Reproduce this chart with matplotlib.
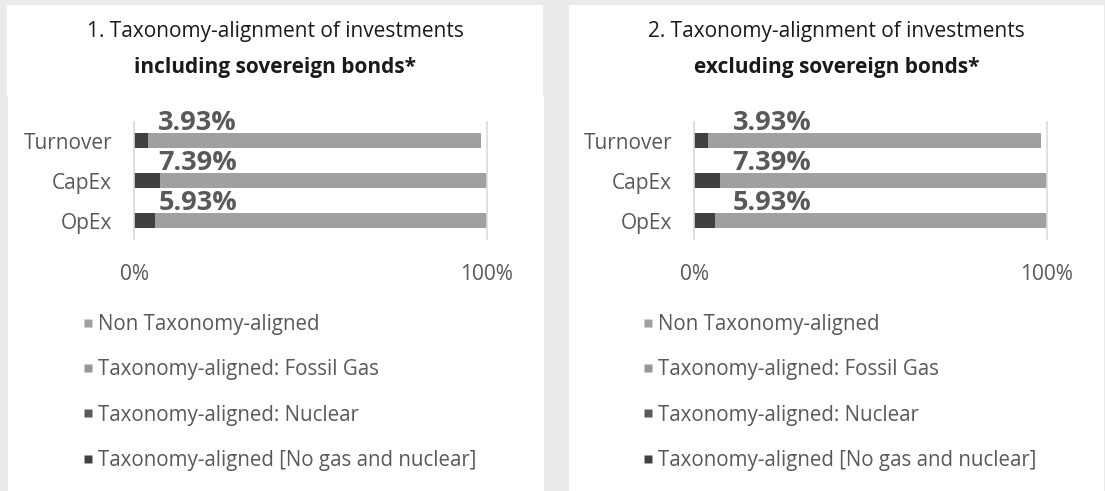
import matplotlib.pyplot as plt
from matplotlib.patches import Rectangle
from matplotlib.lines import Line2D

plt.rcParams['font.family'] = ['Open Sans', 'DejaVu Sans']

# data (percent of investments)
categories = ['Turnover', 'CapEx', 'OpEx']
series_names = ['Taxonomy-aligned [No gas and nuclear]', 'Taxonomy-aligned: Nuclear',
                'Taxonomy-aligned: Fossil Gas', 'Non Taxonomy-aligned']
series_colors = ['#404040', '#595959', '#969696', '#a0a0a0']

incl_aligned = [3.93, 7.39, 5.93]
incl_nuclear = [0.0, 0.0, 0.0]
incl_gas = [0.0, 0.0, 0.0]
incl_non = [94.5, 92.61, 94.07]

excl_aligned = [3.93, 7.39, 5.93]
excl_nuclear = [0.0, 0.0, 0.0]
excl_gas = [0.0, 0.0, 0.0]
excl_non = [94.5, 92.61, 94.07]

titles = ['1. Taxonomy-alignment of investments', '2. Taxonomy-alignment of investments']
subtitles = ['including sovereign bonds*', 'excluding sovereign bonds*']
label_texts = ['3.93%', '7.39%', '5.93%']

W, H = 1105, 491
fig = plt.figure(figsize=(W / 100, H / 100), dpi=100)
fig.patch.set_facecolor('#ebebeb')

def px_rect(x0, y0, x1, y1):
    # pixel box (top-left origin) -> figure fraction
    return [x0 / W, 1 - y1 / H, (x1 - x0) / W, (y1 - y0) / H]

# white panel backgrounds
for (x0, y0, x1, y1) in [(7, 5, 543, 96), (8, 96, 544, 491), (569, 5, 1104, 491)]:
    r = px_rect(x0, y0, x1, y1)
    fig.patches.append(Rectangle((r[0], r[1]), r[2], r[3], transform=fig.transFigure,
                                 facecolor='white', edgecolor='none', zorder=-5))

text_col = '#595959'
panels = [
    (incl_aligned, incl_nuclear, incl_gas, incl_non),
    (excl_aligned, excl_nuclear, excl_gas, excl_non),
]
shift = [0, 560]
label_x = [18, 22]
panel_center = [275.5, 836.5]

for p, series in enumerate(panels):
    dx = shift[p]
    ax = fig.add_axes(px_rect(134.3 + dx, 121.7, 486.7 + dx, 239))
    ax.set_facecolor('none')
    ax.set_zorder(2)
    ypos = [2, 1, 0]
    left = [0.0] * len(categories)
    for vals, col in zip(series, series_colors):
        ax.barh(ypos, vals, left=left, height=0.36, color=col, zorder=2)
        left = [a + b for a, b in zip(left, vals)]
    for y, t in zip(ypos, label_texts):
        ax.text(label_x[p], y + 0.265, t, ha='center', va='baseline', fontsize=19.5,
                fontweight='bold', color=text_col)
    ax.set_xlim(0, 100)
    ax.set_ylim(-0.46, 2.47)
    ax.set_yticks(ypos)
    ax.set_yticklabels(categories, fontsize=15, color=text_col)
    ax.set_xticks([0, 100])
    ax.set_xticklabels(['0%', '100%'], fontsize=15, color=text_col)
    ax.tick_params(axis='y', length=0, pad=16)
    ax.tick_params(axis='x', length=0, pad=18)
    for s in ['top', 'bottom']:
        ax.spines[s].set_visible(False)
    for s in ['left', 'right']:
        ax.spines[s].set_color('#d9d9d9')
        ax.spines[s].set_linewidth(1.2)

    fig.text(panel_center[p] / W, 1 - 31 / H, titles[p], ha='center', va='center',
             fontsize=15, color='#1a1a1a')
    fig.text(panel_center[p] / W, 1 - 67 / H, subtitles[p], ha='center', va='center',
             fontsize=15, fontweight='bold', color='#1a1a1a')

    handles = [Line2D([], [], marker='s', linestyle='none', markersize=6,
                      markerfacecolor=c, markeredgecolor='none')
               for c in series_colors[::-1]]
    fig.legend(handles, series_names[::-1], loc='upper left',
               bbox_to_anchor=((83 + dx) / W, 1 - 314 / H), frameon=False,
               fontsize=14.8, labelcolor=text_col, handlelength=0.5,
               handletextpad=0.25, labelspacing=1.18, borderpad=0, borderaxespad=0)

fig.savefig('out.png', dpi=100, facecolor=fig.get_facecolor())
